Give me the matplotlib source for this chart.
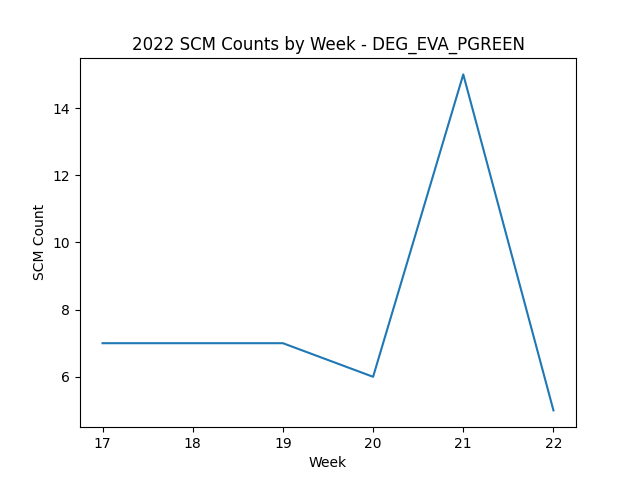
import matplotlib
matplotlib.use("Agg")
import matplotlib.pyplot as plt

weeks = [17, 18, 19, 20, 21, 22]
counts = [7, 7, 7, 6, 15, 5]

fig, ax = plt.subplots(figsize=(6.4, 4.8), dpi=100)
ax.plot(weeks, counts)
ax.set_title("2022 SCM Counts by Week - DEG_EVA_PGREEN")
ax.set_xlabel("Week")
ax.set_ylabel("SCM Count")
fig.savefig("out.png")
